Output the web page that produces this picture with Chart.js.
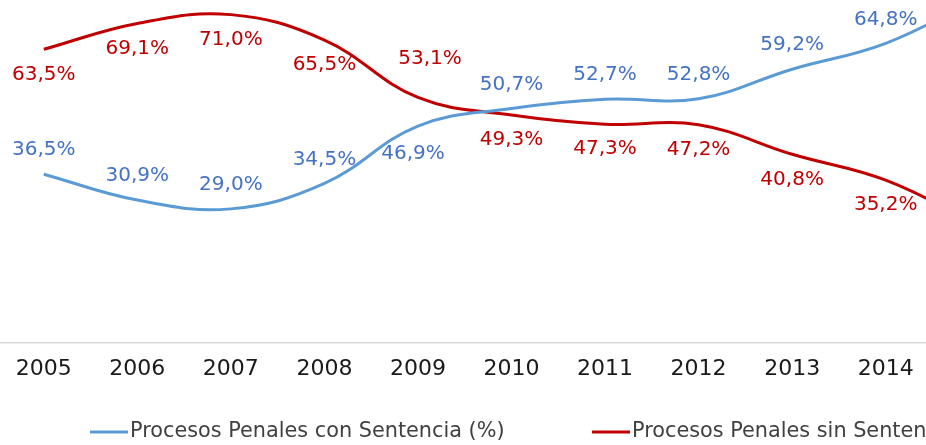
<!DOCTYPE html>
<html>
<head>
<meta charset="utf-8">
<script src="https://cdn.jsdelivr.net/npm/chart.js@4"></script>
<style>
  html, body { margin: 0; padding: 0; background: #fff; overflow: hidden; width: 926px; height: 445px; }
  #wrap { position: absolute; left: -20px; top: -40px; }
</style>
</head>
<body>
<div id="wrap"><canvas id="chart" width="1120" height="485"></canvas></div>
<script>
// data (2015 is cut off at the right edge, estimated from the line ends)
const years = ['2005', '2006', '2007', '2008', '2009', '2010', '2011', '2012', '2013', '2014', '2015'];
const conSentencia = [36.5, 30.9, 29.0, 34.5, 46.9, 50.7, 52.7, 52.8, 59.2, 64.8, 74.6];
const sinSentencia = [63.5, 69.1, 71.0, 65.5, 53.1, 49.3, 47.3, 47.2, 40.8, 35.2, 25.4];
const seriesNames = ['Procesos Penales con Sentencia (%)', 'Procesos Penales sin Sentencia (%)'];

const FONT = '"DejaVu Sans", "Noto Sans", sans-serif';

// where each value label sits relative to its point (dx, dy in px)
const labelOffsets = [
    years.map((y, i) => i === 4 ? [-5, 28] : [0, -24]),
    years.map((y, i) => i === 4 ? [12, -39] : [0, 25])
];
const labelColors = ['#4472C4', '#C00000'];

function fmt(v) {
    return v.toFixed(1).replace('.', ',') + '%';
}

// draws the value labels next to the points
const valueLabels = {
    id: 'valueLabels',
    afterDatasetsDraw(chart) {
        const ctx = chart.ctx;
        ctx.save();
        ctx.font = '20px ' + FONT;
        ctx.textAlign = 'center';
        ctx.textBaseline = 'middle';
        chart.data.datasets.forEach((ds, di) => {
            const meta = chart.getDatasetMeta(di);
            meta.data.forEach((pt, i) => {
                const off = labelOffsets[di][i];
                ctx.fillStyle = labelColors[di];
                ctx.fillText(fmt(ds.data[i]), pt.x + off[0], pt.y + off[1]);
            });
        });
        ctx.restore();
    }
};

// simple legend at the bottom, line sample + text
const bottomLegend = {
    id: 'bottomLegend',
    afterDraw(chart) {
        const ctx = chart.ctx;
        const y = 472;
        const starts = [110, 612];
        ctx.save();
        ctx.font = '20.8px ' + FONT;
        ctx.textBaseline = 'middle';
        ctx.textAlign = 'left';
        chart.data.datasets.forEach((ds, di) => {
            const x = starts[di];
            ctx.strokeStyle = ds.borderColor;
            ctx.lineWidth = 3;
            ctx.beginPath();
            ctx.moveTo(x, y);
            ctx.lineTo(x + 38, y);
            ctx.stroke();
            ctx.fillStyle = '#404040';
            ctx.fillText(ds.label, x + 40, y);
        });
        ctx.restore();
    }
};

const ctx = document.getElementById('chart').getContext('2d');
new Chart(ctx, {
    type: 'line',
    data: {
        labels: years,
        datasets: [
            {
                label: seriesNames[0],
                data: conSentencia,
                borderColor: '#5B9BD5',
                backgroundColor: '#5B9BD5',
                borderWidth: 3,
                pointRadius: 0,
                tension: 0.4,
                fill: false
            },
            {
                label: seriesNames[1],
                data: sinSentencia,
                borderColor: '#C00000',
                backgroundColor: '#C00000',
                borderWidth: 3,
                pointRadius: 0,
                tension: 0.4,
                fill: false
            }
        ]
    },
    options: {
        responsive: false,
        animation: false,
        layout: { padding: { left: 17, right: 74, top: 13, bottom: 62 } },
        plugins: {
            legend: { display: false },
            tooltip: { enabled: false }
        },
        scales: {
            x: {
                offset: true,
                grid: { display: false, drawTicks: false },
                border: { display: true, color: '#D9D9D9', width: 1.5 },
                ticks: { color: '#1a1a1a', padding: 13, font: { size: 22, family: FONT } },
                afterFit(scale) { scale.height = 40; }
            },
            y: {
                display: false,
                min: 0,
                max: 80
            }
        }
    },
    plugins: [valueLabels, bottomLegend]
});
</script>
</body>
</html>
